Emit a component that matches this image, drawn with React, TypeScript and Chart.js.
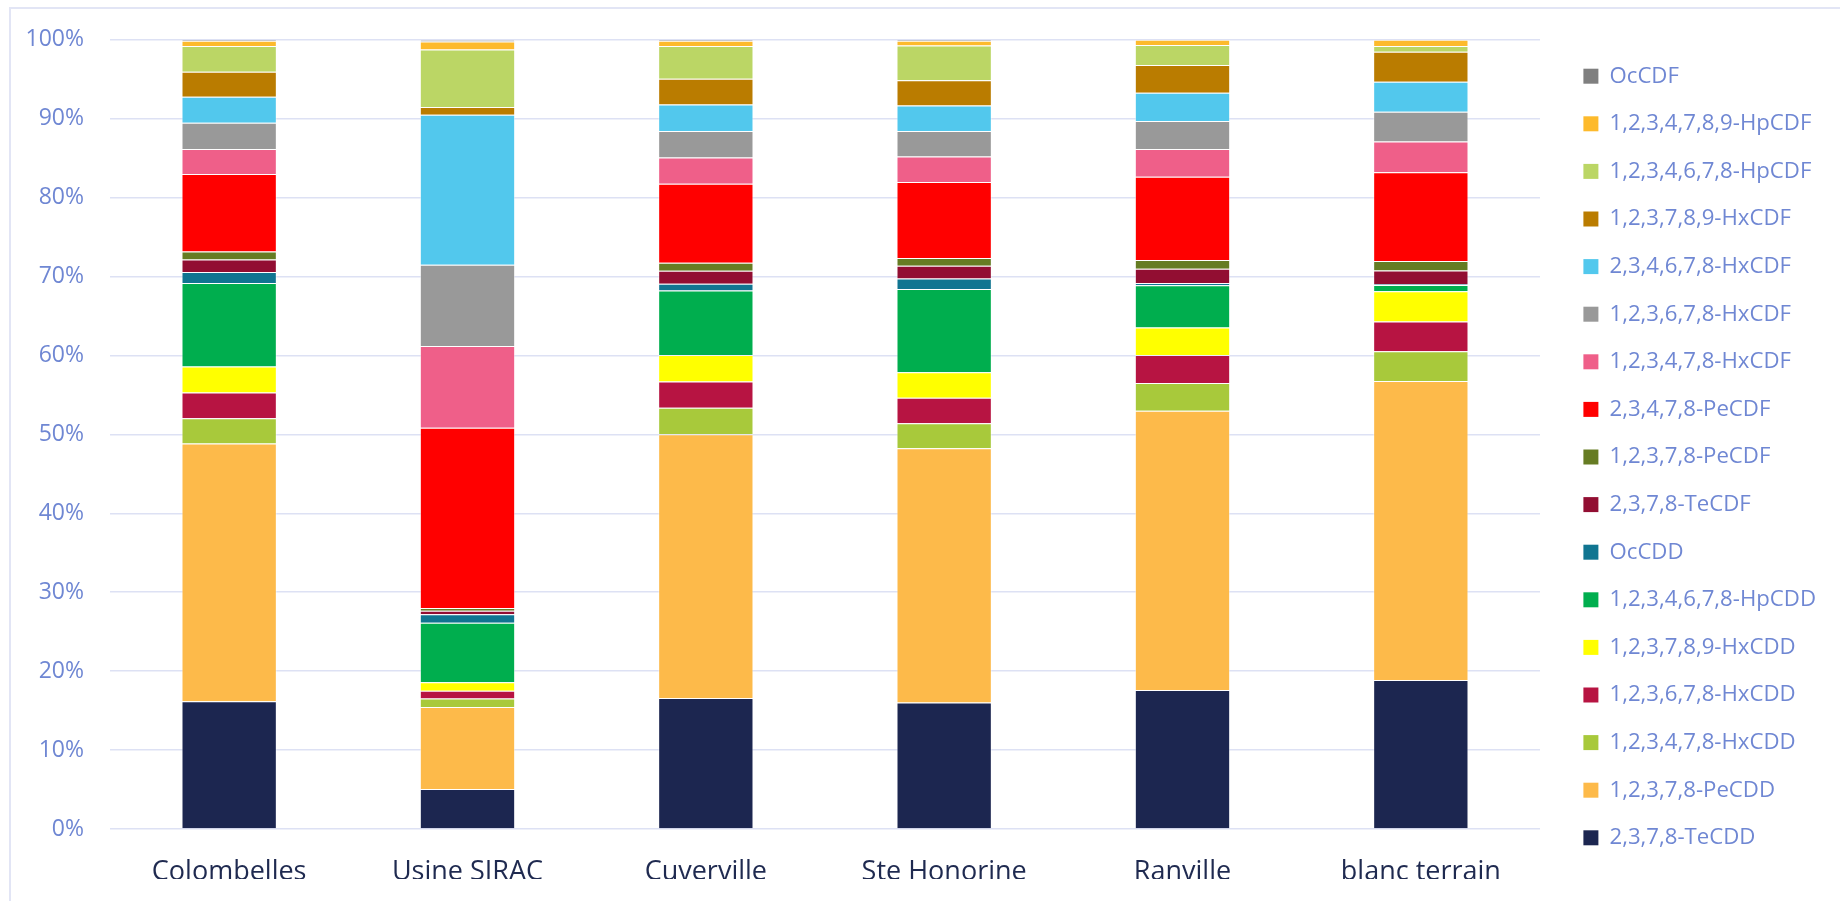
import React, { useEffect, useRef } from "react";
import { Chart, registerables } from "chart.js";

Chart.register(...registerables);

const categories = ["Colombelles", "Usine SIRAC", "Cuverville", "Ste Honorine", "Ranville", "blanc terrain"];

// Series, bottom of stack first
const TeCDD_2378 = [16.18, 5.08, 16.6, 16.02, 17.62, 18.88];
const PeCDD_12378 = [32.66, 10.39, 33.42, 32.24, 35.38, 37.9];
const HxCDD_123478 = [3.2, 1.05, 3.36, 3.15, 3.5, 3.75];
const HxCDD_123678 = [3.28, 1.01, 3.32, 3.24, 3.56, 3.78];
const HxCDD_123789 = [3.28, 1.05, 3.36, 3.23, 3.5, 3.82];
const HpCDD_1234678 = [10.59, 7.56, 8.16, 10.55, 5.34, 0.81];
const OcCDD = [1.39, 1.06, 0.88, 1.34, 0.29, 0.1];
const TeCDF_2378 = [1.59, 0.46, 1.64, 1.6, 1.81, 1.74];
const PeCDF_12378 = [1.01, 0.34, 1.01, 0.97, 1.09, 1.19];
const PeCDF_23478 = [9.8, 22.83, 10.0, 9.63, 10.55, 11.26];
const HxCDF_123478 = [3.19, 10.37, 3.33, 3.23, 3.53, 3.87];
const HxCDF_123678 = [3.32, 10.3, 3.36, 3.24, 3.53, 3.78];
const HxCDF_234678 = [3.28, 19.0, 3.36, 3.24, 3.58, 3.82];
const HxCDF_123789 = [3.19, 1.0, 3.28, 3.19, 3.52, 3.79];
const HpCDF_1234678 = [3.24, 7.28, 4.12, 4.42, 2.53, 0.71];
const HpCDF_1234789 = [0.67, 1.0, 0.67, 0.58, 0.67, 0.8];
const OcCDF = [0.13, 0.22, 0.13, 0.13, 0.0, 0.0];

const seriesNames = [
  "2,3,7,8-TeCDD",
  "1,2,3,7,8-PeCDD",
  "1,2,3,4,7,8-HxCDD",
  "1,2,3,6,7,8-HxCDD",
  "1,2,3,7,8,9-HxCDD",
  "1,2,3,4,6,7,8-HpCDD",
  "OcCDD",
  "2,3,7,8-TeCDF",
  "1,2,3,7,8-PeCDF",
  "2,3,4,7,8-PeCDF",
  "1,2,3,4,7,8-HxCDF",
  "1,2,3,6,7,8-HxCDF",
  "2,3,4,6,7,8-HxCDF",
  "1,2,3,7,8,9-HxCDF",
  "1,2,3,4,6,7,8-HpCDF",
  "1,2,3,4,7,8,9-HpCDF",
  "OcCDF",
];

const seriesValues = [
  TeCDD_2378, PeCDD_12378, HxCDD_123478, HxCDD_123678, HxCDD_123789, HpCDD_1234678, OcCDD,
  TeCDF_2378, PeCDF_12378, PeCDF_23478, HxCDF_123478, HxCDF_123678, HxCDF_234678, HxCDF_123789,
  HpCDF_1234678, HpCDF_1234789, OcCDF,
];

const seriesColors = [
  "#1c2650", "#fdba4a", "#a8c93b", "#b71442", "#ffff00", "#00ae4e", "#107591",
  "#920e32", "#667c23", "#ff0000", "#ef5f89", "#999999", "#52c8ed", "#ba7c00",
  "#bbd665", "#fdba2c", "#7f7f7f",
];

const yTicks = [0, 10, 20, 30, 40, 50, 60, 70, 80, 90, 100];

const FONT = "'Open Sans', 'Noto Sans', sans-serif";

// shifts the right-hand legend away from the plot area
const legendShift = {
  id: "legendShift",
  afterLayout(chart: any) {
    const l = chart.legend;
    if (l) {
      l.left += 18;
      l.right += 18;
    }
  },
};

export default function App() {
  const ref = useRef<HTMLCanvasElement | null>(null);

  useEffect(() => {
    if (!ref.current) return;
    const chart = new Chart(ref.current, {
      type: "bar",
      data: {
        labels: categories,
        datasets: seriesNames.map((name, i) => ({
          label: name,
          data: seriesValues[i],
          backgroundColor: seriesColors[i],
          borderColor: "rgba(255,255,255,0.45)",
          borderWidth: 1,
          categoryPercentage: 1,
          barPercentage: 0.4,
        })),
      },
      plugins: [legendShift],
      options: {
        animation: false,
        responsive: false,
        layout: { padding: { top: 35, right: 32, left: 0, bottom: 22 } },
        plugins: {
          tooltip: { enabled: false },
          legend: {
            position: "right",
            reverse: true,
            labels: {
              boxWidth: 15,
              boxHeight: 15,
              padding: 25.4,
              color: "#6f87d3",
              font: { family: FONT, size: 22.2 },
              generateLabels: (c: any) =>
                Chart.defaults.plugins.legend.labels.generateLabels(c).map((l: any) => ({
                  ...l,
                  lineWidth: 0,
                  strokeStyle: "rgba(0,0,0,0)",
                })),
            },
          },
        },
        scales: {
          x: {
            stacked: true,
            grid: { display: false },
            border: { display: false },
            ticks: {
              color: "#1f2a50",
              font: { family: FONT, size: 27 },
              padding: 19,
            },
            afterFit: (s: any) => {
              s.height = 50;
            },
          },
          y: {
            stacked: true,
            min: 0,
            max: 100,
            afterBuildTicks: (s: any) => {
              s.ticks = yTicks.map((v) => ({ value: v }));
            },
            grid: { color: "#dde1f4", lineWidth: 1.5, drawTicks: false },
            border: { display: false },
            ticks: {
              color: "#6f87d3",
              font: { family: FONT, size: 23 },
              padding: 26,
              callback: (v: any) => v + "%",
            },
            afterFit: (s: any) => {
              s.width = 110;
            },
          },
        },
      },
    });
    return () => chart.destroy();
  }, []);

  return (
    <>
      <div
        style={{
          position: "fixed",
          left: 9,
          top: 7,
          right: -10,
          bottom: -10,
          borderLeft: "2px solid #e2e5f5",
          borderTop: "2px solid #e2e5f5",
        }}
      />
      <canvas
        ref={ref}
        width={1840}
        height={901}
        style={{ position: "fixed", left: 0, top: 0, width: 1840, height: 901 }}
      />
    </>
  );
}
